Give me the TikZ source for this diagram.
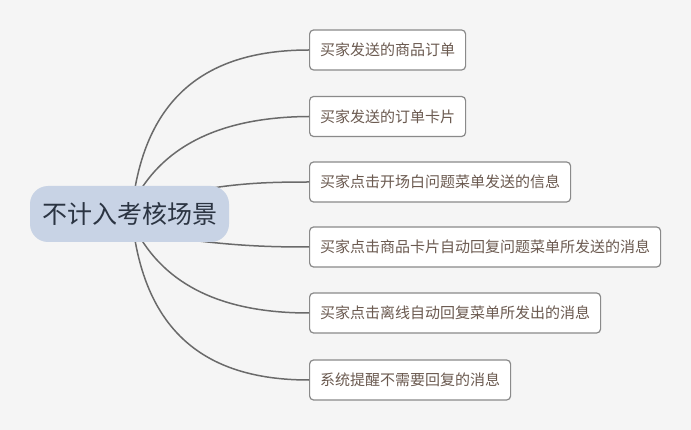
\documentclass[tikz,border=0pt]{standalone}
\usepackage{fontspec}
\setmainfont{Noto Sans CJK SC}
\begin{document}
\begin{tikzpicture}[x=1pt,y=-1pt,
  rootbox/.style={fill=rootblue,rounded corners=18pt,minimum width=199pt,minimum height=56pt,inner sep=0pt,font=\fontsize{25pt}{29pt}\selectfont,text=roottext},
  leaf/.style={draw=leafborder,line width=1.2pt,fill=white,rounded corners=4pt,anchor=west,minimum height=40pt,inner xsep=10.5pt,inner ysep=0pt,font=\fontsize{15pt}{18pt}\selectfont,text=leaftext},
  link/.style={draw=linkgray,line width=1.5pt}]
\definecolor{bg}{HTML}{F5F5F5}
\definecolor{rootblue}{HTML}{C8D3E5}
\definecolor{roottext}{HTML}{2B3442}
\definecolor{leafborder}{HTML}{8A8A8A}
\definecolor{leaftext}{HTML}{6B5A50}
\definecolor{linkgray}{HTML}{6A6A6A}
\fill[bg] (0,0) rectangle (691,430);
\useasboundingbox (0,0) rectangle (691,430);

\node[leaf] (c1) at (309,50) {买家发送的商品订单};
\node[leaf] (c2) at (309,116.5) {买家发送的订单卡片};
\node[leaf] (c3) at (309,182) {买家点击开场白问题菜单发送的信息};
\node[leaf] (c4) at (309,247) {买家点击商品卡片自动回复问题菜单所发送的消息};
\node[leaf] (c5) at (309,313) {买家点击离线自动回复菜单所发出的消息};
\node[leaf] (c6) at (309,380) {系统提醒不需要回复的消息};

\coordinate (s1) at (134,194);
\coordinate (s2) at (138,194);
\coordinate (s3) at (200,190);
\coordinate (s4) at (190,240);
\coordinate (s5) at (138,234);
\coordinate (s6) at (134,234);

\draw[link] (s1) .. controls (150,92) and (212,50) .. (c1.west);
\draw[link] (s2) .. controls (170,140) and (230,117) .. (c2.west);
\draw[link] (s3) .. controls (240,183) and (270,182) .. (c3.west);
\draw[link] (s4) .. controls (240,246) and (270,247) .. (c4.west);
\draw[link] (s5) .. controls (170,290) and (230,313) .. (c5.west);
\draw[link] (s6) .. controls (150,338) and (212,380) .. (c6.west);

\node[rootbox] (root) at (129.5,214) {不计入考核场景};
\end{tikzpicture}
\end{document}
